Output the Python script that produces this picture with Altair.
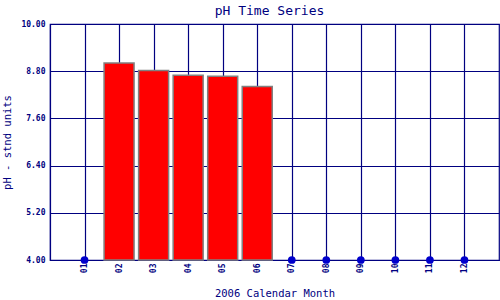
import altair as alt
import pandas as pd

months = list(range(1, 13))
ph_values = [None, 9.01, 8.82, 8.70, 8.67, 8.41, None, None, None, None, None, None]
y_ticks = [4.0, 5.2, 6.4, 7.6, 8.8, 10.0]
y_min, y_max = 4.0, 10.0

NAVY = "#000080"
MONO = "DejaVu Sans Mono"

df = pd.DataFrame({"month": months, "ph": ph_values})
bars_df = df.dropna().copy()
missing_df = df[df["ph"].isna()].copy()
missing_df["floor"] = y_min

x_scale = alt.Scale(domain=[0, 13], nice=False, zero=False, padding=0)
y_scale = alt.Scale(domain=[y_min, y_max], nice=False, zero=False, padding=0)

x_axis = alt.Axis(
    values=months,
    labelExpr="format(datum.value, '02d')",
    labelAngle=-90,
    labelFont=MONO, labelFontSize=8, labelFontWeight="bold", labelColor=NAVY,
    labelPadding=3,
    ticks=False,
    domainColor=NAVY, domainWidth=1.2,
    gridColor=NAVY, gridWidth=1.2, gridOpacity=1,
    title="2006 Calendar Month",
    titleFont=MONO, titleFontSize=10.5, titleFontWeight="normal", titleColor=NAVY,
    titlePadding=16,
)
y_axis = alt.Axis(
    values=y_ticks,
    format=".2f",
    labelFont=MONO, labelFontSize=8, labelFontWeight="bold", labelColor=NAVY,
    labelPadding=5,
    ticks=False,
    domainColor=NAVY, domainWidth=1.2,
    gridColor=NAVY, gridWidth=1.2, gridOpacity=1,
    title="pH - stnd units",
    titleFont=MONO, titleFontSize=10.5, titleFontWeight="normal", titleColor=NAVY,
    titlePadding=8,
)

bars = alt.Chart(bars_df).mark_bar(
    color="#ff0000", stroke="#808080", strokeWidth=1.5, size=30
).encode(
    x=alt.X("month:Q", scale=x_scale, axis=x_axis),
    y=alt.Y("ph:Q", scale=y_scale, axis=y_axis),
    y2=alt.Y2(datum=y_min),
)

dots = alt.Chart(missing_df).mark_circle(
    color="#0000cc", opacity=1, size=60
).encode(
    x=alt.X("month:Q", scale=x_scale),
    y=alt.Y("floor:Q", scale=y_scale),
)

chart = alt.layer(bars, dots).properties(
    width=449,
    height=236,
    autosize=alt.AutoSizeParams(type="none"),
    padding={"left": 50, "top": 24, "right": 1, "bottom": 40},
    background="white",
    title=alt.TitleParams(
        "pH Time Series", font=MONO, fontSize=13, fontWeight="normal",
        color=NAVY, offset=2, dx=-5,
    ),
).configure_view(stroke=NAVY, strokeWidth=1.2)

chart.save("out.html", embed_options={"renderer": "svg", "actions": False})
